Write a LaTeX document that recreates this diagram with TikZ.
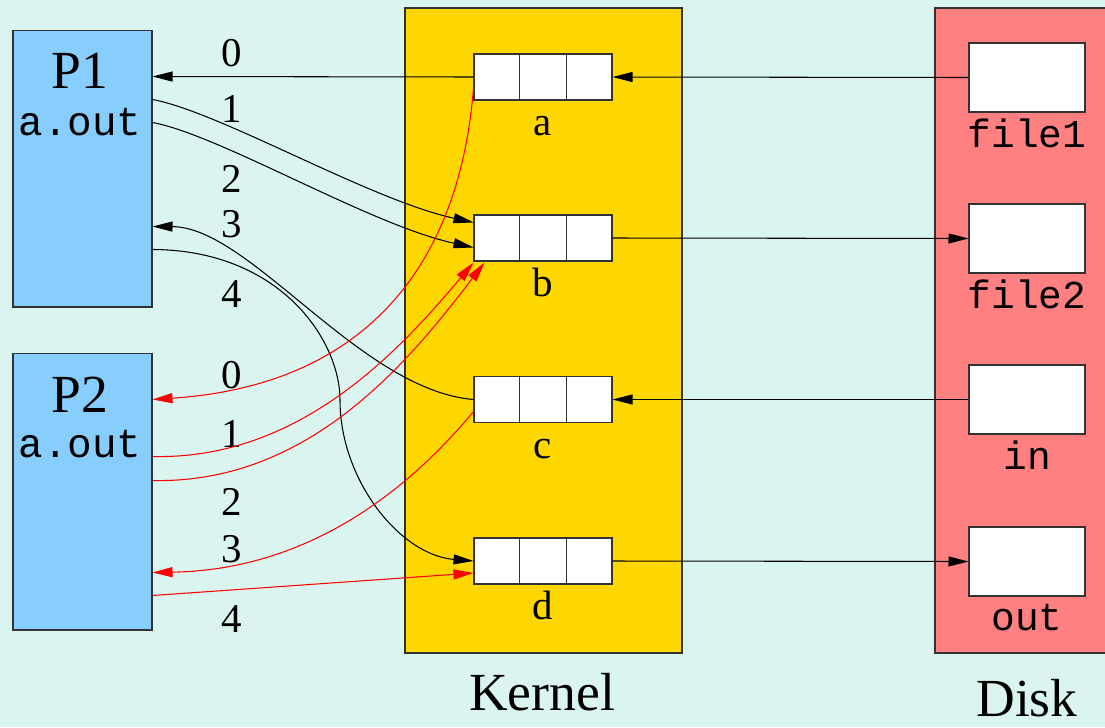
\documentclass[tikz,border=0pt]{standalone}
\usepackage{fontspec}
\setmainfont{Liberation Serif}
\setmonofont{Liberation Mono}
\usetikzlibrary{arrows.meta,calc}
\definecolor{bgc}{RGB}{218,245,239}
\definecolor{pcol}{RGB}{135,206,255}
\definecolor{kcol}{RGB}{255,215,0}
\definecolor{dcol}{RGB}{255,128,128}
\definecolor{edge}{RGB}{50,50,50}
\tikzset{
  pbox/.style={draw=edge, line width=0.6pt, fill=pcol, minimum width=2.78cm, minimum height=5.54cm, inner sep=0pt},
  ftab/.style={draw=edge, line width=0.6pt, fill=white, minimum width=2.76cm, minimum height=0.92cm, inner sep=0pt},
  dfile/.style={draw=edge, line width=0.6pt, fill=white, minimum width=2.32cm, minimum height=1.38cm, inner sep=0pt},
  num/.style={font=\fontsize{23.3}{28}\selectfont, anchor=base, inner sep=0pt},
  big/.style={font=\fontsize{30.5}{36}\selectfont, anchor=base, inner sep=0pt},
  mono/.style={font=\fontsize{23.3}{28}\selectfont\ttfamily, anchor=base, inner sep=0pt},
  fmono/.style={font=\fontsize{22.5}{27}\selectfont\ttfamily, anchor=base, inner sep=0pt},
  conn/.style={line width=0.6pt, -{Triangle[length=0.4cm,width=0.2cm]}},
  bconn/.style={conn, black},
  rconn/.style={conn, red},
}
\begin{document}
\begin{tikzpicture}[x=0.02cm, y=-0.02cm]
\useasboundingbox (0,0) rectangle (1105,727);
\fill[bgc] (0,0) rectangle (1105,727);
% big boxes
\draw[edge, line width=0.6pt, fill=kcol] (405,8) rectangle (682,653);
\draw[edge, line width=0.6pt, fill=dcol] (935,8) rectangle (1120,653);
\node[big] (klab) at (542,710) {Kernel};
\node[big] (dlab) at (1027,716) {Disk};
% processes
\node[pbox] (P1) at (82.5,168.5) {};
\node[pbox] (P2) at (82.5,491.5) {};
\node[big] (p1t) at (80,88) {P1};
\node[mono] (p1a) at (80,135) {a.out};
\node[big] (p2t) at (80,412) {P2};
\node[mono] (p2a) at (80,457) {a.out};
% file tables
\node[ftab] (fA) at (543,77) {};
\node[ftab] (fB) at (543,238) {};
\node[ftab] (fC) at (543,399.5) {};
\node[ftab] (fD) at (543,561) {};
\foreach \n in {fA,fB,fC,fD}{
  \draw[edge, line width=0.6pt] ($(\n.north west)!1/3!(\n.north east)$) -- ($(\n.south west)!1/3!(\n.south east)$);
  \draw[edge, line width=0.6pt] ($(\n.north west)!2/3!(\n.north east)$) -- ($(\n.south west)!2/3!(\n.south east)$);
}
\node[num] (la) at (543,135) {a};
\node[num] (lb) at (543,296) {b};
\node[num] (lc) at (543,458) {c};
\node[num] (ld) at (543,619) {d};
% disk files
\node[dfile] (d1) at (1027,77.5) {};
\node[dfile] (d2) at (1027,238.5) {};
\node[dfile] (d3) at (1027,399.5) {};
\node[dfile] (d4) at (1027,561.5) {};
\node[fmono] (l1) at (1027,147) {file1};
\node[fmono] (l2) at (1027,308) {file2};
\node[fmono] (l3) at (1027,469) {in};
\node[fmono] (l4) at (1027,630) {out};
% descriptor numbers
\node[num] (n10) at (232,66) {0};
\node[num] (n11) at (232,122) {1};
\node[num] (n12) at (232,192) {2};
\node[num] (n13) at (232,237) {3};
\node[num] (n14) at (232,307) {4};
\node[num] (n20) at (232,388) {0};
\node[num] (n21) at (232,447) {1};
\node[num] (n22) at (232,515) {2};
\node[num] (n23) at (232,562) {3};
\node[num] (n24) at (232,632) {4};
% black connectors
\draw[bconn] (fA.west) -- ($(P1.north east)+(0,47)$);
\draw[bconn] (d1.west) -- (fA.east);
\draw[bconn] (fB.east) -- (d2.west);
\draw[bconn] (d3.west) -- (fC.east);
\draw[bconn] (fD.east) -- (d4.west);
\draw[bconn] ($(P1.north east)+(0,70)$) .. controls (220,112) and (370,200) .. ($(fB.north west)+(0,8)$);
\draw[bconn] ($(P1.north east)+(0,93)$) .. controls (220,135) and (370,225) .. ($(fB.north west)+(0,33)$);
\draw[bconn] (fC.west) .. controls (360,390) and (250,227) .. ($(P1.north east)+(0,197)$);
\draw[bconn] ($(P1.north east)+(0,220)$) .. controls (280,250) and (340,340) .. (340,400) .. controls (340,480) and (400,555) .. (fD.west);
% red connectors
\draw[rconn] ($(fA.west)+(0,11)$) .. controls (460,260) and (370,385) .. ($(P2.north east)+(0,47)$);
\draw[rconn] ($(P2.north east)+(0,104)$) .. controls (300,460) and (400,350) .. ($(fB.south west)+(0,1)$);
\draw[rconn] ($(P2.north east)+(0,128)$) .. controls (310,484) and (410,360) .. ($(fB.south west)+(11,1)$);
\draw[rconn] ($(fC.west)+(0,12)$) .. controls (400,500) and (300,570) .. ($(P2.north east)+(0,220)$);
\draw[rconn] ($(P2.north east)+(0,243)$) -- ($(fD.west)+(0,12)$);
\end{tikzpicture}
\end{document}
